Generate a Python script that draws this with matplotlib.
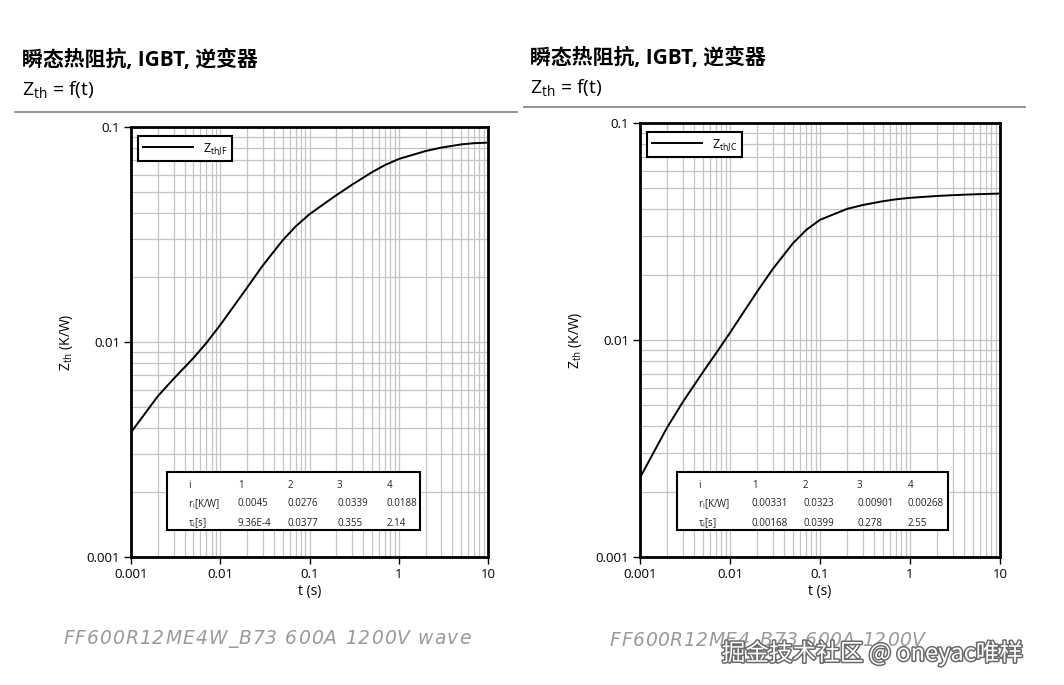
import matplotlib
matplotlib.use('Agg')
import matplotlib.pyplot as plt
import matplotlib.ticker as mticker
from matplotlib.patches import Rectangle
from matplotlib.lines import Line2D
import matplotlib.patheffects as pe

plt.rcParams['font.family'] = ['Open Sans', 'Noto Sans CJK SC', 'DejaVu Sans']

# data
t = [0.001, 0.002, 0.003, 0.005, 0.007, 0.01, 0.02, 0.03, 0.05, 0.07,
     0.1, 0.2, 0.3, 0.5, 0.7, 1, 2, 3, 5, 7, 10]
z_jf = [0.00380, 0.00560, 0.00674, 0.00842, 0.00990, 0.0120, 0.0179, 0.0227,
        0.0297, 0.0345, 0.0393, 0.0482, 0.0539, 0.0616, 0.0665, 0.0710,
        0.0773, 0.0802, 0.0830, 0.0841, 0.0846]
z_jc = [0.00232, 0.00395, 0.00519, 0.00711, 0.00869, 0.0108, 0.0167, 0.0213,
        0.0279, 0.0321, 0.0358, 0.0402, 0.0419, 0.0436, 0.0445, 0.0452,
        0.0461, 0.0465, 0.0469, 0.0471, 0.0473]

tab_cols = ['i', '1', '2', '3', '4']
r_jf = ['0.0045', '0.0276', '0.0339', '0.0188']
tau_jf = ['9.36E-4', '0.0377', '0.355', '2.14']
r_jc = ['0.00331', '0.0323', '0.00901', '0.00268']
tau_jc = ['0.00168', '0.0399', '0.278', '2.55']

title = '瞬态热阻抗, IGBT, 逆变器'
cap_left = 'FF600R12ME4W_B73 600A 1200V wave'
cap_right = 'FF600R12ME4_B73 600A 1200V'

W, H = 1064, 685
fig = plt.figure(figsize=(W / 100, H / 100), dpi=100)
renderer = fig.canvas.get_renderer()

def fx(px):
    return px / W

def fy(py):
    return 1 - py / H

def spaced_text(x, y, s, gap, **kw):
    # matplotlib has no letter spacing, so place the glyphs one by one
    for ch in s:
        tx = fig.text(fx(x), fy(y), ch, va='center', ha='left', **kw)
        if ch == ' ':
            w = tx.get_fontsize() * 0.32 * 100 / 72
        else:
            w = tx.get_window_extent(renderer).width
        x += w + gap

def panel(box, head, line, t, z, lab, rvals, tvals, colx, tabbox, cap):
    l, top, r, b = box
    ax = fig.add_axes([fx(l), fy(b), fx(r - l), (b - top) / H])
    ax.plot(t, z, color='black', lw=1.4, label=lab, zorder=3)
    ax.set_xscale('log')
    ax.set_yscale('log')
    ax.set_xlim(0.001, 10)
    ax.set_ylim(0.001, 0.1)
    ax.xaxis.set_major_locator(mticker.FixedLocator([0.001, 0.01, 0.1, 1, 10]))
    ax.yaxis.set_major_locator(mticker.FixedLocator([0.001, 0.01, 0.1]))
    fmt = mticker.FuncFormatter(lambda v, p: '%g' % v)
    ax.xaxis.set_major_formatter(fmt)
    ax.yaxis.set_major_formatter(fmt)
    ax.xaxis.set_minor_formatter(mticker.NullFormatter())
    ax.yaxis.set_minor_formatter(mticker.NullFormatter())
    ax.grid(which='both', color='#c4c4c4', lw=0.9)
    ax.set_axisbelow(True)
    for s in ax.spines.values():
        s.set_linewidth(2)
    ax.tick_params(which='major', direction='out', length=5, width=1,
                   labelsize=9.5, pad=3)
    ax.tick_params(which='minor', length=0)
    ax.set_xlabel('t (s)', fontsize=10, labelpad=2)
    ax.set_ylabel(r'$\mathregular{Z_{th}}$ (K/W)', fontsize=10, labelpad=8)

    leg = ax.legend(loc='upper left', bbox_to_anchor=(7 / (r - l), 1 - 9 / (b - top)),
                    borderaxespad=0, fontsize=9, handlelength=4.0, fancybox=False,
                    framealpha=1, edgecolor='black', borderpad=0.4)
    leg.get_frame().set_linewidth(1.5)

    # parameter table
    tl, tt, tr, tb = tabbox
    ax.add_patch(Rectangle((fx(tl), fy(tb)), fx(tr - tl), (tb - tt) / H,
                           transform=fig.transFigure, facecolor='white',
                           edgecolor='black', lw=1.5, zorder=4, clip_on=False))
    rows = [tab_cols,
            [r'$\mathregular{r_i}$[K/W]'] + rvals,
            [r'$\mathregular{\tau_i}$[s]'] + tvals]
    for ry, row in zip([485, 504, 523], rows):
        for cx, txt in zip(colx, row):
            fig.text(fx(cx), fy(ry), txt, fontsize=7, va='center', ha='left',
                     color='#222222', zorder=5)

    fig.text(fx(head[0]), fy(head[1]), title, fontsize=15, fontweight='bold',
             va='center', ha='left')
    fig.text(fx(head[0]), fy(head[1] + 29), r'$\mathregular{Z_{th}}$ = f(t)',
             fontsize=14, va='center', ha='left')
    fig.add_artist(Line2D([fx(line[0]), fx(line[1])], [fy(line[2])] * 2,
                          color='#8a8a8a', lw=1.3))
    spaced_text(cap[0], cap[1], cap[2], cap[3], fontsize=13.5, style='italic',
                color='#9a9a9a', family='DejaVu Sans')
    return ax

panel((131, 127, 488, 557), (22, 60), (15, 517, 112), t, z_jf,
      r'$\mathregular{Z_{thJF}}$', r_jf, tau_jf, [188, 238, 288, 337, 387],
      (167, 472, 420, 530), (63, 638, cap_left, 1.05))
panel((640, 123, 1000, 557), (530, 58), (524, 1025, 107), t, z_jc,
      r'$\mathregular{Z_{thJC}}$', r_jc, tau_jc, [698, 752, 803, 857, 908],
      (677, 472, 948, 530), (610, 640, cap_right, 0.55))

fig.text(fx(1023), fy(653), '掘金技术社区 @ oneyac唯样', fontsize=17,
         color='white', ha='right', va='center',
         family=['Noto Sans CJK SC', 'DejaVu Sans'],
         path_effects=[pe.withStroke(linewidth=2.2, foreground='#6a6a6a')])

fig.savefig('out.png', dpi=100, facecolor='white')
